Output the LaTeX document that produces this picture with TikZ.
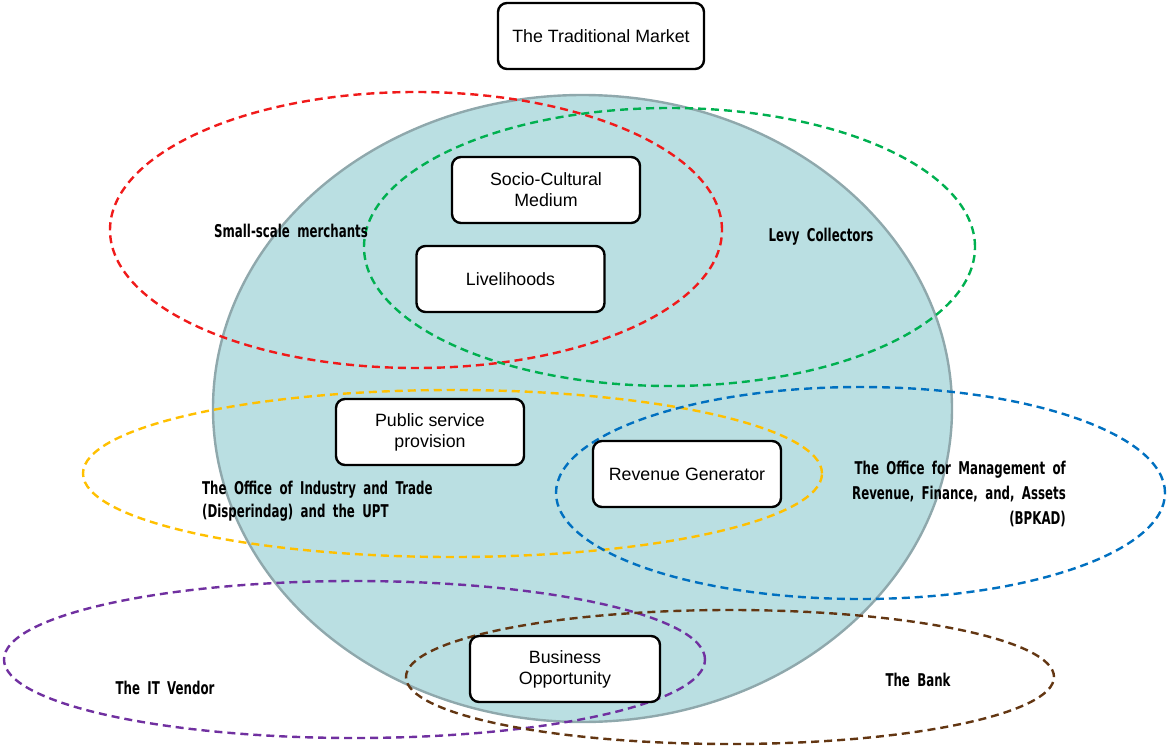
\documentclass[tikz,border=0pt]{standalone}
\usepackage{fontspec}
\setmainfont{Liberation Sans}
\newfontfamily\labfont[FakeStretch=0.67,WordSpace=1.8]{DejaVu Sans}
\definecolor{discfill}{HTML}{BADFE2}
\definecolor{discline}{HTML}{8FA8AC}
\definecolor{cred}{HTML}{F01A1A}
\definecolor{cgreen}{HTML}{00B050}
\definecolor{cyellow}{HTML}{FFC000}
\definecolor{cblue}{HTML}{0070C0}
\definecolor{cpurple}{HTML}{7030A0}
\definecolor{cbrown}{HTML}{633612}
\begin{document}
\begin{tikzpicture}[x=1pt,y=-1pt,
  ring/.style={line width=2.4pt, dash pattern=on 8pt off 5pt},
  roleBox/.style={draw, fill=white, line width=2.4pt, rounded corners=9pt,
    minimum width=188pt, minimum height=66pt, align=center,
    font=\fontsize{17.8}{21}\selectfont, inner sep=0pt},
  actor/.style={font=\labfont\bfseries\fontsize{17.6}{25}\selectfont, inner sep=0pt}]
\useasboundingbox (0,0) rectangle (1167,749);

% the market as a whole
\fill[discfill] (582.5,408.5) ellipse [x radius=369.5pt, y radius=313.5pt];
\draw[discline, line width=2.4pt] (582.5,408.5) ellipse [x radius=369.5pt, y radius=313.5pt];

% stakeholder groups
\draw[ring, cred]    (416,230)   ellipse [x radius=306pt,   y radius=138pt];
\draw[ring, cgreen]  (669.5,247) ellipse [x radius=305.5pt, y radius=139pt];
\draw[ring, cyellow] (452.5,473.5) ellipse [x radius=369.5pt, y radius=83.5pt];
\draw[ring, cblue]   (860.5,493) ellipse [x radius=304.5pt, y radius=106pt];
\draw[ring, cpurple] (354.5,659.5) ellipse [x radius=350.5pt, y radius=78.5pt];
\draw[ring, cbrown]  (730,677)   ellipse [x radius=324pt,   y radius=67pt];

% functions of the market
\node[roleBox, minimum width=206pt] (market) at (601,36) {The Traditional Market};
\node[roleBox] (socio)   at (546,190)   {Socio-Cultural\\Medium};
\node[roleBox] (live)    at (510.5,279) {Livelihoods};
\node[roleBox] (public)  at (430,432)   {Public service\\provision};
\node[roleBox] (revenue) at (687,474)   {Revenue Generator};
\node[roleBox, minimum width=190pt] (business) at (565,669) {Business\\Opportunity};

% group labels
\node[actor] (merchants) at (291,231) {Small-scale merchants};
\node[actor] (levy) at (821,237) {Levy Collectors};
\node[actor, anchor=north west, align=left, font=\labfont\bfseries\fontsize{17.6}{23}\selectfont] (disperindag) at (202,481)
  {The Office of Industry and Trade\\(Disperindag) and the UPT};
\node[actor, anchor=north east, align=right] (bpkad) at (1066,461)
  {The Office for Management of\\Revenue, Finance, and, Assets\\(BPKAD)};
\node[actor] (vendor) at (165,688) {The IT Vendor};
\node[actor] (bank) at (918,680) {The Bank};
\end{tikzpicture}
\end{document}
